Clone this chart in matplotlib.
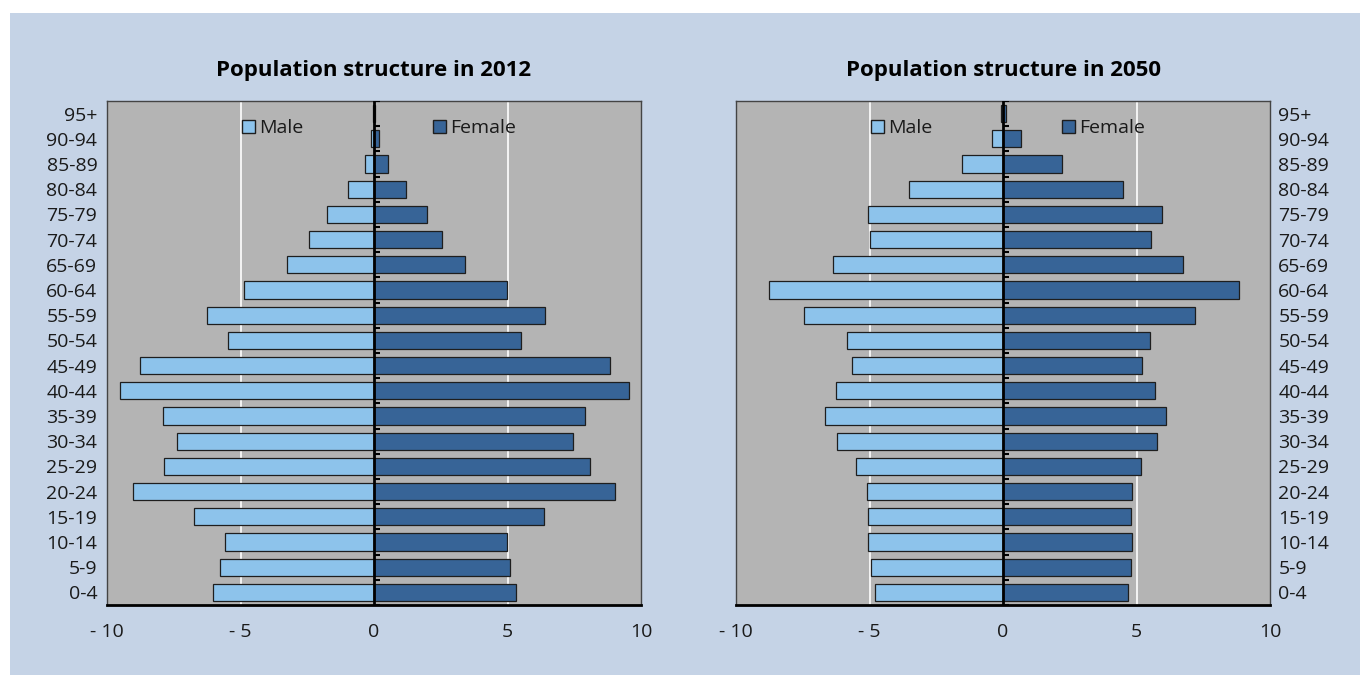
import matplotlib.pyplot as plt
from matplotlib.patches import Patch, Rectangle

plt.rcParams['font.family'] = ['Open Sans', 'DejaVu Sans']

ages = ['0-4', '5-9', '10-14', '15-19', '20-24', '25-29', '30-34', '35-39',
        '40-44', '45-49', '50-54', '55-59', '60-64', '65-69', '70-74',
        '75-79', '80-84', '85-89', '90-94', '95+']

# percent of population, 2012
male_2012 = [6.03, 5.77, 5.58, 6.74, 9.03, 7.87, 7.38, 7.90, 9.51, 8.76,
             5.47, 6.25, 4.87, 3.26, 2.43, 1.76, 0.96, 0.34, 0.11, 0.02]
female_2012 = [5.32, 5.09, 4.98, 6.37, 9.03, 8.09, 7.45, 7.90, 9.55, 8.84,
               5.51, 6.40, 4.98, 3.41, 2.55, 1.99, 1.20, 0.51, 0.18, 0.04]

# percent of population, 2050
male_2050 = [4.81, 4.96, 5.07, 5.07, 5.11, 5.49, 6.20, 6.65, 6.24, 5.64,
             5.86, 7.47, 8.78, 6.35, 5.00, 5.04, 3.53, 1.53, 0.40, 0.09]
female_2050 = [4.70, 4.81, 4.85, 4.81, 4.85, 5.15, 5.75, 6.12, 5.68, 5.19,
               5.49, 7.20, 8.85, 6.73, 5.53, 5.94, 4.48, 2.22, 0.67, 0.13]

xticks = [-10, -5, 0, 5, 10]
xlabels = ['- 10', '- 5', '0', '5', '10']

MALE_C = '#8dc3eb'
FEMALE_C = '#376497'
BG = '#c5d3e6'
AX_BG = '#b4b4b4'
TXT = '#1a1a1a'

fig = plt.figure(figsize=(13.6, 6.75), dpi=100, facecolor='white')
# light blue panel, with a thin white margin top and left
fig.patches.append(Rectangle((10 / 1360, 0), 1, 1 - 13 / 675,
                             transform=fig.transFigure, facecolor=BG,
                             edgecolor='none', zorder=-1))

ax1 = fig.add_axes([107 / 1360, 70 / 675, 534 / 1360, 504 / 675])
ax2 = fig.add_axes([736 / 1360, 70 / 675, 534 / 1360, 504 / 675])


def pyramid(ax, male, female, title, right_labels=False):
    ax.set_facecolor(AX_BG)
    y = list(range(len(ages)))
    ax.barh(y, [-m for m in male], height=0.68, color=MALE_C,
            edgecolor='#1e1e1e', linewidth=0.9, zorder=3)
    ax.barh(y, female, height=0.68, color=FEMALE_C,
            edgecolor='#1e1e1e', linewidth=0.9, zorder=3)
    ax.set_xlim(-10, 10)
    ax.set_ylim(-0.5, len(ages) - 0.5)
    for g in (-5, 5):
        ax.axvline(g, color='white', lw=1.2, zorder=1)
    ax.axvline(0, color='black', lw=2, zorder=4)
    # small tick marks along the zero line
    bounds = [i - 0.5 for i in range(len(ages) + 1)]
    ax.hlines(bounds, 0, 0.22, color='black', lw=1.5, zorder=4)

    ax.set_yticks(y)
    ax.set_yticklabels(ages, fontsize=14, color=TXT)
    ax.set_xticks(xticks)
    ax.set_xticklabels(xlabels, fontsize=14, color=TXT)
    ax.tick_params(length=0, axis='x', pad=13)
    if right_labels:
        ax.yaxis.tick_right()
        ax.tick_params(length=0, axis='y', pad=6)
    else:
        ax.tick_params(length=0, axis='y', pad=7)
    for s in ('top', 'left', 'right'):
        ax.spines[s].set_color('#444444')
        ax.spines[s].set_linewidth(1)
    ax.spines['bottom'].set_color('black')
    ax.spines['bottom'].set_linewidth(2)

    handles = [Patch(facecolor=MALE_C, edgecolor='#1e1e1e', label='Male'),
               Patch(facecolor=FEMALE_C, edgecolor='#1e1e1e', label='Female')]
    leg = ax.legend(handles=handles, loc='center left',
                    bbox_to_anchor=(0.253, 0.946), ncol=2, frameon=False,
                    fontsize=14, handlelength=0.65, handleheight=0.65,
                    handletextpad=0.2, columnspacing=6.7, borderaxespad=0,
                    borderpad=0)
    for t in leg.get_texts():
        t.set_color(TXT)

    ax.set_title(title, fontsize=16, fontweight='bold', color='black', pad=18)


pyramid(ax1, male_2012, female_2012, 'Population structure in 2012')
pyramid(ax2, male_2050, female_2050, 'Population structure in 2050',
        right_labels=True)

fig.savefig('out.png', dpi=100, facecolor='white')
